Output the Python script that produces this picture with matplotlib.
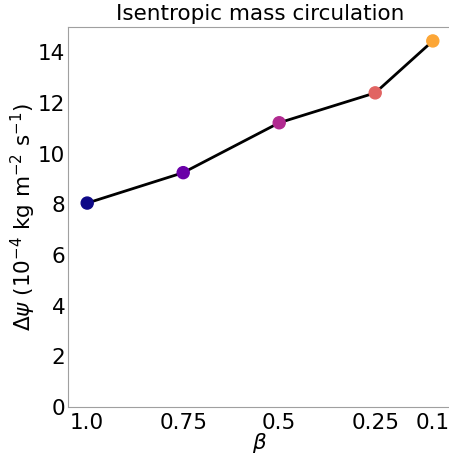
import numpy as np
import matplotlib
matplotlib.use('Agg')
import matplotlib.pyplot as plt

beta = [1.0, 0.75, 0.5, 0.25, 0.1]
beta_labels = ['1.0', '0.75', '0.5', '0.25', '0.1']
dpsi = [8.05, 9.25, 11.22, 12.4, 14.45]
yticks = [0, 2, 4, 6, 8, 10, 12, 14]

colors = plt.cm.plasma(np.linspace(0, 0.8, len(beta)))

fig = plt.figure(figsize=(4.49, 4.55), dpi=100)
# axes runs slightly past the right edge, as in the original
ax = fig.add_axes([68/449, 48/455, 384/449, 380/455])

ax.plot(beta, dpsi, color='k', lw=2, zorder=2)
ax.scatter(beta, dpsi, c=colors, s=75, zorder=3)

ax.set_xlim(1.05, 0.05)
ax.set_ylim(0, 15)
ax.set_xticks(beta)
ax.set_xticklabels(beta_labels)
ax.set_yticks(yticks)
ax.tick_params(labelsize=15.5, length=0)
ax.tick_params(axis='x', pad=4)
ax.tick_params(axis='y', pad=2)
for s in ax.spines.values():
    s.set_color('#a0a0a0')

ax.set_xlabel(r'$\beta$', fontsize=15.5, labelpad=-1)
ax.set_ylabel(r'$\Delta\psi$ (10$^{-4}$ kg m$^{-2}$ s$^{-1}$)', fontsize=15.5, labelpad=0)
ax.set_title('Isentropic mass circulation', fontsize=15.5, pad=5)

fig.savefig('out.png', dpi=100)
